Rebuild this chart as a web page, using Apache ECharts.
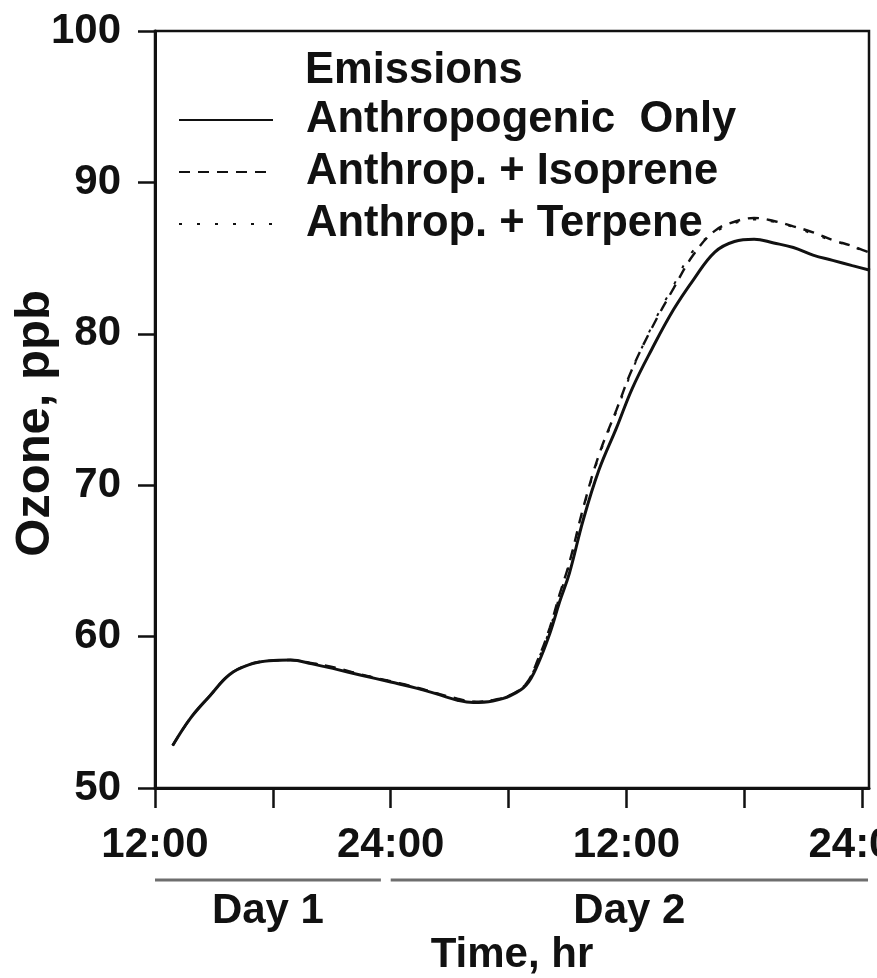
<!DOCTYPE html>
<html>
<head>
<meta charset="utf-8">
<script src="https://cdn.jsdelivr.net/npm/echarts@6/dist/echarts.min.js"></script>
<style>
html,body{margin:0;padding:0;background:#fff;}
#chart{width:877px;height:978px;}
</style>
</head>
<body>
<div id="chart"></div>
<script>
// ---- data (hours counted from midnight of Day 1) ----
var hours =      [12.9, 13.8, 14.8, 15.8, 16.8, 17.8, 18.9, 20.0, 21.2, 22.5, 24.0, 25.3, 26.5, 27.4, 28.2, 29.2, 30.1, 30.9, 31.5, 32.1, 32.6, 33.1, 33.8, 34.6, 35.5, 36.3, 37.3, 38.4, 39.4, 40.5, 41.5, 42.5, 43.5, 44.5, 45.5, 46.5, 47.5, 48.4];
var anthroOnly = [52.8, 54.6, 56.1, 57.5, 58.15, 58.4, 58.45, 58.2, 57.85, 57.45, 57.0, 56.6, 56.15, 55.8, 55.65, 55.75, 56.1, 56.8, 58.2, 60.2, 62.3, 64.2, 67.7, 71.0, 73.8, 76.4, 79.0, 81.6, 83.55, 85.4, 86.1, 86.25, 86.0, 85.7, 85.2, 84.85, 84.5, 84.2];
var isoprene =   [52.8, 54.6, 56.1, 57.5, 58.15, 58.4, 58.45, 58.25, 57.95, 57.5, 57.05, 56.65, 56.2, 55.9, 55.7, 55.8, 56.15, 56.9, 58.5, 60.6, 62.8, 64.9, 68.5, 72.0, 75.0, 77.7, 80.4, 83.0, 85.2, 86.8, 87.4, 87.65, 87.45, 87.1, 86.7, 86.2, 85.8, 85.35];
var terpene =    [52.8, 54.6, 56.1, 57.5, 58.15, 58.4, 58.45, 58.25, 57.9, 57.5, 57.05, 56.6, 56.2, 55.85, 55.7, 55.8, 56.15, 56.9, 58.45, 60.5, 62.7, 64.8, 68.4, 71.9, 74.9, 77.6, 80.5, 83.2, 85.5, 86.7, 87.3, 87.55, 87.4, 87.05, 86.6, 86.15, 85.75, 85.3];
var seriesNames = ['Anthropogenic  Only', 'Anthrop. + Isoprene', 'Anthrop. + Terpene'];
var legendTitle = 'Emissions';
var tickHours = [12, 18, 24, 30, 36, 42, 48];
var labelHours = [12, 24, 36, 48];
var tickLabels = ['12:00', '24:00', '12:00', '24:00'];
var dayLabels = ['Day 1', 'Day 2'];
var dayRanges = [[12, 23.5], [24, 48.3]];
var xName = 'Time, hr';
var yName = 'Ozone, ppb';

function pairs(xs, ys){ return xs.map(function(x,i){ return [x, ys[i]]; }); }

var FONT = "'Liberation Sans', Arial, Helvetica, sans-serif";
var INK = '#111';

var chart = echarts.init(document.getElementById('chart'), null, {renderer:'canvas'});

var option = {
  animation: false,
  backgroundColor: '#fff',
  textStyle: {fontFamily: FONT, color: INK},
  title: {
    text: legendTitle, left: 305, top: 49, padding: 0,
    textStyle: {fontFamily: FONT, fontSize: 43.5, fontWeight: 'bold', color: INK, lineHeight: 43}
  },
  legend: {
    orient: 'vertical', left: 178, top: 98, padding: 0,
    itemWidth: 94, itemHeight: 14, itemGap: 8,
    data: seriesNames,
    itemStyle: {opacity: 0, borderWidth: 0},
    textStyle: {fontFamily: FONT, fontSize: 43.5, fontWeight: 'bold', color: INK, lineHeight: 40, padding: [0,0,0,28]}
  },
  grid: {left: 155, top: 31, right: 8, bottom: 190, show: true, borderColor: INK, borderWidth: 2.5, outerBoundsMode: 'none', containLabel: false},
  xAxis: {
    type: 'value', min: 12, max: 48.35, interval: 6,
    name: xName, nameLocation: 'middle', nameGap: 146, nameMoveOverlap: false,
    nameTextStyle: {fontFamily: FONT, fontSize: 42, fontWeight: 'bold', color: INK},
    axisLine: {show: true, lineStyle: {color: INK, width: 3}},
    axisTick: {show: true, length: 20, lineStyle: {color: INK, width: 2.5}, customValues: tickHours},
    axisLabel: {
      show: true, margin: 36, fontFamily: FONT, fontSize: 42, fontWeight: 'bold', color: INK,
      customValues: labelHours,
      formatter: function(v){ var i = labelHours.indexOf(v); return i >= 0 ? tickLabels[i] : ''; }
    },
    splitLine: {show: false}
  },
  yAxis: {
    type: 'value', min: 50, max: 100, interval: 10,
    name: yName, nameLocation: 'middle', nameGap: 95, nameRotate: 90, nameMoveOverlap: false,
    nameTextStyle: {fontFamily: FONT, fontSize: 49, fontWeight: 'bold', color: INK, padding: [0, 28, 0, 0]},
    axisLine: {show: true, lineStyle: {color: INK, width: 3}},
    axisTick: {show: true, length: 17, lineStyle: {color: INK, width: 2.5}},
    axisLabel: {show: true, margin: 34, fontFamily: FONT, fontSize: 42, fontWeight: 'bold', color: INK},
    splitLine: {show: false}
  },
  series: [
    {name: seriesNames[1], type: 'line', data: pairs(hours, isoprene), smooth: 0.4, symbol: 'none', z: 2,
     lineStyle: {color: INK, width: 2.4, type: [11, 8]}, itemStyle: {color: INK}},
    {name: seriesNames[2], type: 'line', data: pairs(hours, terpene), smooth: 0.4, symbol: 'none', z: 2,
     lineStyle: {color: INK, width: 2, type: [3, 15]}, itemStyle: {color: INK}},
    {name: seriesNames[0], type: 'line', data: pairs(hours, anthroOnly), smooth: 0.4, symbol: 'none', z: 3,
     lineStyle: {color: INK, width: 3}, itemStyle: {color: INK}}
  ]
};
chart.setOption(option);

// Day bands under the time axis, placed through the axis scale
var gridBottom = chart.convertToPixel({gridIndex: 0}, [12, 50])[1];
var gfx = [];
dayRanges.forEach(function(r, i){
  var x0 = chart.convertToPixel({xAxisIndex: 0}, r[0]);
  var x1 = chart.convertToPixel({xAxisIndex: 0}, r[1]);
  gfx.push({type: 'line', shape: {x1: x0, y1: gridBottom + 92, x2: x1, y2: gridBottom + 92},
            style: {stroke: '#6e6e6e', lineWidth: 3}});
  gfx.push({type: 'text', x: (x0 + x1) / 2, y: gridBottom + 123,
            style: {text: dayLabels[i], fill: INK, font: 'bold 42px ' + FONT, textAlign: 'center', textVerticalAlign: 'middle'}});
});
chart.setOption({graphic: gfx});
</script>
</body>
</html>
